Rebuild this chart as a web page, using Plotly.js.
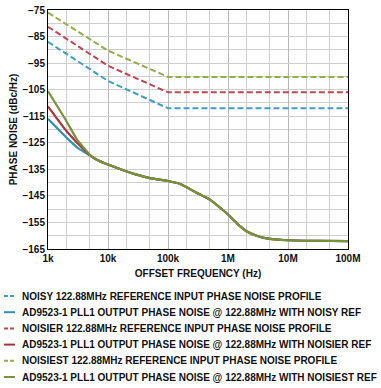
<!DOCTYPE html>
<html>
<head>
<meta charset="utf-8">
<script src="https://cdn.plot.ly/plotly-3.0.1.min.js"></script>
<style>html,body{margin:0;padding:0;background:#fff;}</style>
</head>
<body>
<div id="chart" style="width:381px;height:388px;"></div>
<script>
// Reference input profiles (dashed)
const refFreq = [1e3, 1e4, 1e5, 1e8];
const noisyRef = [-87, -101.7, -112, -112];
const noisierRef = [-81.3, -96, -106, -106];
const noisiestRef = [-76, -90.3, -100.2, -100.2];

// Output phase noise (solid)
const outFreq = [1e3, 2e3, 3e3, 5.3e3, 6.5e3, 1e4, 2e4, 3e4, 5e4, 1e5, 1.6e5, 2.3e5, 3e5, 5e5, 7e5, 1e6, 1.6e6, 2e6, 3e6, 4.4e6, 6e6, 1e7, 3e7, 1e8];
const tail = [-130.1, -131.4, -133.2, -135.7, -137, -138.3, -139.4, -140.5, -142.4, -143.8, -146.4, -149, -152, -156.5, -158.2, -160, -161, -161.4, -161.7, -161.9, -162];
const outNoisy = [-116, -122.9, -126.6].concat(tail);
const outNoisier = [-111.3, -120.4, -124.8].concat(tail);
const outNoisiest = [-105.6, -116.6, -123.5].concat(tail);

const names = [
  'NOISY 122.88MHz REFERENCE INPUT PHASE NOISE PROFILE',
  'AD9523-1 PLL1 OUTPUT PHASE NOISE @ 122.88MHz WITH NOISY REF',
  'NOISIER 122.88MHz REFERENCE INPUT PHASE NOISE PROFILE',
  'AD9523-1 PLL1 OUTPUT PHASE NOISE @ 122.88MHz WITH NOISIER REF',
  'NOISIEST 122.88MHz REFERENCE INPUT PHASE NOISE PROFILE',
  'AD9523-1 PLL1 OUTPUT PHASE NOISE @ 122.88MHz WITH NOISIEST REF'
];
const xTickVals = [1e3, 1e4, 1e5, 1e6, 1e7, 1e8];
const xTickText = ['1k', '10k', '100k', '1M', '10M', '100M'];
const yTickVals = [-75, -85, -95, -105, -115, -125, -135, -145, -155, -165];

const cBlueD = '#3ea0c2', cBlue = '#3590b2';
const cRedD = '#c0474f', cRed = '#a8353b';
const cGreenD = '#92ad4c', cGreen = '#76933a';

const dashed = {width: 2, dash: '6px,3px'};
const solid = {width: 2.2};
const styles = [
  Object.assign({color: cBlueD}, dashed),
  Object.assign({color: cBlue}, solid),
  Object.assign({color: cRedD}, dashed),
  Object.assign({color: cRed}, solid),
  Object.assign({color: cGreenD}, dashed),
  Object.assign({color: cGreen}, solid)
];
const xs = [refFreq, outFreq, refFreq, outFreq, refFreq, outFreq];
const ys = [noisyRef, outNoisy, noisierRef, outNoisier, noisiestRef, outNoisiest];

const traces = ys.map((y, i) => ({
  type: 'scatter', mode: 'lines', hoverinfo: 'skip', name: names[i],
  x: xs[i], y: y,
  line: Object.assign({}, styles[i], i % 2 ? {shape: 'spline', smoothing: 0.6} : {})
}));

// plot frame in pixels (for converting legend placement to paper coords)
const W = 381, H = 388, ML = 48, MR = 33, MT = 10, MB = 139;
const PW = W - ML - MR, PH = H - MT - MB;
const px = v => (v - ML) / PW;
const py = v => (H - MB - v) / PH;

const ff = 'Liberation Sans, Arial, sans-serif';
const shapes = [], annotations = [];
names.forEach((n, i) => {
  const yc = 296 + i * 16.2;
  shapes.push({
    type: 'line', xref: 'paper', yref: 'paper',
    x0: px(4), x1: px(15), y0: py(yc), y1: py(yc),
    line: {color: styles[i].color, width: 2, dash: i % 2 ? 'solid' : '4px,2px'}
  });
  annotations.push({
    xref: 'paper', yref: 'paper', x: px(20), y: py(yc),
    xanchor: 'left', yanchor: 'middle', showarrow: false, text: n,
    font: {family: ff, size: 10, weight: 'bold', color: '#111'}
  });
});

const tf = {size: 10, weight: 'bold', family: ff, color: '#111'};
const layout = {
  width: W, height: H,
  margin: {l: ML, r: MR, t: MT, b: MB},
  paper_bgcolor: '#fff', plot_bgcolor: '#fff',
  font: {family: ff, color: '#111', size: 10},
  showlegend: false,
  shapes: shapes, annotations: annotations,
  xaxis: {
    type: 'log', range: [3, 8],
    tickvals: xTickVals, ticktext: xTickText,
    showline: true, linecolor: '#000', linewidth: 1, mirror: true,
    showgrid: true, gridcolor: '#b8b8b8', gridwidth: 1,
    minor: {showgrid: true, gridcolor: '#cfcfcf', gridwidth: 1, ticks: ''},
    ticks: '', zeroline: false, automargin: false,
    tickfont: tf,
    title: {text: 'OFFSET FREQUENCY (Hz)', standoff: 6, font: tf}
  },
  yaxis: {
    range: [-165, -75],
    tickvals: yTickVals,
    showline: true, linecolor: '#000', linewidth: 1, mirror: true,
    showgrid: true, gridcolor: '#cfcfcf', gridwidth: 1,
    minor: {showgrid: true, gridcolor: '#cfcfcf', gridwidth: 1, dtick: 5, tick0: 0, ticks: ''},
    ticks: '', zeroline: false, automargin: false,
    tickfont: tf,
    title: {text: 'PHASE NOISE (dBc/Hz)', standoff: 2, font: tf}
  }
};

Plotly.newPlot('chart', traces, layout, {displayModeBar: false, staticPlot: true});
</script>
</body>
</html>
